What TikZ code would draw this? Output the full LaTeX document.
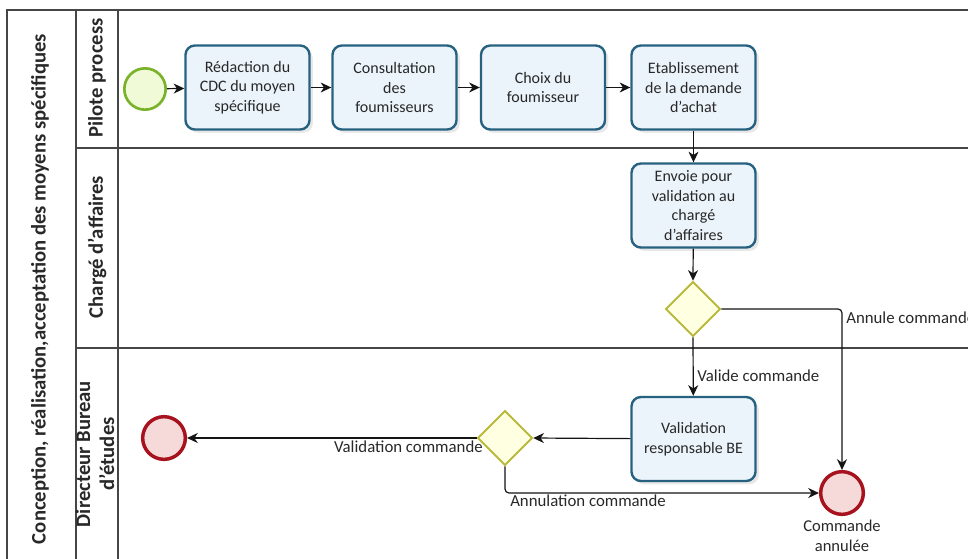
\documentclass[tikz,border=0pt]{standalone}
\usepackage{fontspec}
\setmainfont{Carlito}
\usetikzlibrary{arrows.meta,shapes.geometric,shadows}

\begin{document}
\begin{tikzpicture}[x=0.75pt,y=0.75pt,yscale=-1,xscale=1,
	lane/.style={draw={rgb, 255:red, 70; green, 70; blue, 70 },line width=0.9pt},
	task/.style={draw={rgb, 255:red, 38; green, 98; blue, 128 },fill={rgb, 255:red, 236; green, 244; blue, 251 },line width=1.8pt,rounded corners=7pt,minimum width=93pt,minimum height=63pt,inner sep=1pt,align=center,font=\fontsize{12}{14.8}\selectfont,text={rgb, 255:red, 40; green, 40; blue, 40 },drop shadow={opacity=0.18,shadow xshift=2.5pt,shadow yshift=-2.5pt}},
	gate/.style={diamond,aspect=1,draw={rgb, 255:red, 185; green, 185; blue, 60 },fill={rgb, 255:red, 255; green, 255; blue, 226 },line width=1.4pt,minimum size=41pt,inner sep=0pt},
	startev/.style={circle,draw={rgb, 255:red, 122; green, 178; blue, 42 },fill={rgb, 255:red, 240; green, 250; blue, 214 },line width=2pt,minimum size=31pt,inner sep=0pt},
	endev/.style={circle,draw={rgb, 255:red, 168; green, 18; blue, 30 },fill={rgb, 255:red, 246; green, 218; blue, 218 },line width=2.6pt,minimum size=32pt,inner sep=0pt},
	flow/.style={line width=0.9pt,draw={rgb, 255:red, 20; green, 20; blue, 20 },-{Stealth[length=8pt,width=7.5pt,inset=2.5pt]},rounded corners=3pt},
	lbl/.style={inner sep=0.75pt,font=\fontsize{12.6}{15}\selectfont,text={rgb, 255:red, 40; green, 40; blue, 40 }},
	lanetitle/.style={rotate=90,inner sep=0.75pt,font=\bfseries\fontsize{15.5}{18}\selectfont,text={rgb, 255:red, 40; green, 40; blue, 40 },align=center}]
	\useasboundingbox (0,0) rectangle (968,558);
	
	%Straight Lines [id:pool frame] 
	\draw [lane] (7,600) -- (7,10) -- (1000,10) ;
	\draw [lane] (76,10) -- (76,600) ;
	\draw [lane] (118,10) -- (118,600) ;
	%Straight Lines [id:lane dividers] 
	\draw [lane] (76,148) -- (1000,148) ;
	\draw [lane] (76,348) -- (1000,348) ;
	
	% Text Node
	\draw (40,289) node [lanetitle] (pool) {Conception,\ réalisation,acceptation des moyens spécifiques};
	% Text Node
	\draw (97,78) node [lanetitle] (pilote) {Pilote process};
	% Text Node
	\draw (97,247) node [lanetitle] (charge) {Chargé d'affaires};
	% Text Node
	\draw (95,454) node [lanetitle] (directeur) {Directeur Bureau\\d'études};
	
	%Shape: Circle [id:start] 
	\draw (145,89) node [startev] (start) {};
	%Shape: Rectangle [id:tasks] 
	\draw (247.5,87.5) node [task] (redac) {Rédaction du\\CDC du moyen\\spécifique};
	\draw (394.5,87.5) node [task] (consult) {Consultation\\des\\foumisseurs};
	\draw (543,87.5) node [task] (choix) {Choix du\\foumisseur};
	\draw (693.5,87.5) node [task] (etab) {Etablissement\\de la demande\\d'achat};
	\draw (693.5,205.5) node [task] (envoie) {Envoie pour\\validation au\\chargé\\d'affaires};
	\draw (693.5,439) node [task] (valbe) {Validation\\responsable BE};
	%Shape: Diamond [id:gateways] 
	\draw (693,309) node [gate] (gwcharge) {};
	\draw (505,438) node [gate] (gwbe) {};
	%Shape: Circle [id:end events] 
	\draw (164,438) node [endev] (endvalid) {};
	\draw (842,493) node [endev] (endannul) {};
	
	%Straight Lines [id:flows] 
	\draw [flow] (start) -- (redac) ;
	\draw [flow] (redac) -- (consult) ;
	\draw [flow] (consult) -- (choix) ;
	\draw [flow] (choix) -- (etab) ;
	\draw [flow] (etab) -- (envoie) ;
	\draw [flow] (envoie) -- (gwcharge.north) ;
	\draw [flow] (gwcharge.south) -- (valbe) ;
	\draw [flow] (gwcharge.east) -| (endannul.north) ;
	\draw [flow] (valbe) -- (gwbe.east) ;
	\draw [flow] (gwbe.west) -- (endvalid) ;
	\draw [flow] (gwbe.south) |- (endannul.west) ;
	
	% Text Node
	\draw (696,376) node [lbl,anchor=west] (lvalide) {Valide commande};
	% Text Node
	\draw (845,311) node [lbl,anchor=north west] (lannule) {Annule commande};
	% Text Node
	\draw (484,440) node [lbl,anchor=north east] (lvalidation) {Validation commande};
	% Text Node
	\draw (509,494) node [lbl,anchor=north west] (lannulation) {Annulation commande};
	% Text Node
	\draw (842,519) node [lbl,anchor=north,align=center,font=\fontsize{12.4}{15}\selectfont] (lcommande) {Commande\\annulée};
	
\end{tikzpicture}
\end{document}
